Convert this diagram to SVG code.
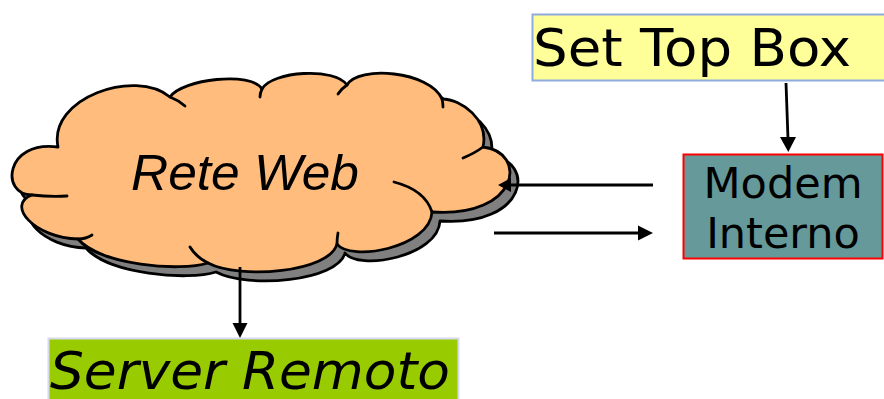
<svg xmlns="http://www.w3.org/2000/svg" width="884" height="399" viewBox="0 0 884 399">
<style>
.cl{stroke:#000;stroke-width:2.8;stroke-linejoin:round;stroke-linecap:round}
.tick{fill:none;stroke:#000;stroke-width:2.8;stroke-linecap:round}
.ln{stroke:#000;stroke-width:2.8;fill:none}
.ah{fill:#000}
.dv{font-family:"DejaVu Sans","Verdana",sans-serif;fill:#000}
</style>
<defs>
<path id="cloud" d="M58,147 C48,98 135,68 170,97 C182,79 252,71 262,89 C272,71 335,67 347,85 C358,65 430,71 442,99 C462,99 489,120 483,147 C528,152 520,218 432,212 C430,248 350,262 337,244 C330,272 240,280 208,263 C180,272 100,265 78,239 C35,238 5,205 32,195 C0,195 5,140 58,147 Z"/>
</defs>
<g id="rete-web">
<use href="#cloud" transform="translate(8,9)" fill="#808080" class="cl"/>
<use href="#cloud" fill="#FFBC7C" class="cl"/>
<path class="tick" d="M170,97 Q178,100 185,106"/>
<path class="tick" d="M262,89 Q260,93 260,97"/>
<path class="tick" d="M347,85 Q341,89 338,94"/>
<path class="tick" d="M442,99 Q443,103 443,107"/>
<path class="tick" d="M483,147 Q475,153 463,158"/>
<path class="tick" d="M432,212 Q425,190 394,182"/>
<path class="tick" d="M337,244 Q337,238 338,233"/>
<path class="tick" d="M208,263 Q196,257 190,247"/>
<path class="tick" d="M78,239 Q86,239 92,235"/>
<path class="tick" d="M32,195 Q50,197 67,196"/>
<text x="131" y="190" font-family="'Liberation Sans',Arial,sans-serif" font-style="italic" font-size="50" textLength="228" lengthAdjust="spacingAndGlyphs">Rete Web</text>
</g>
<g id="set-top-box">
<rect x="532.5" y="14.5" width="360" height="66" fill="#FFFF99" stroke="#8FAADC" stroke-width="2"/>
<text class="dv" x="533" y="66" font-size="52" textLength="318" lengthAdjust="spacingAndGlyphs">Set Top Box</text>
</g>
<g id="modem-interno">
<rect x="683.5" y="154.5" width="199" height="104" fill="#669999" stroke="#FF0000" stroke-width="2"/>
<text class="dv" x="783" y="198" font-size="43" text-anchor="middle">Modem</text>
<text class="dv" x="783" y="248" font-size="43" text-anchor="middle">Interno</text>
</g>
<g id="server-remoto">
<rect x="48.5" y="338.5" width="410" height="70" fill="#99CC00" stroke="#D8D8F0" stroke-width="2"/>
<text class="dv" x="50" y="389" font-size="52" font-style="italic" textLength="400" lengthAdjust="spacingAndGlyphs">Server Remoto</text>
</g>
<g id="connectors">
<line class="ln" x1="786" y1="83" x2="788" y2="139"/>
<polygon class="ah" points="780,137 796,137 788.3,152"/>
<line class="ln" x1="653" y1="185" x2="508" y2="185"/>
<polygon class="ah" points="498,185 511,178 511,192"/>
<line class="ln" x1="494" y1="233" x2="640" y2="233"/>
<polygon class="ah" points="653,233 638,225.5 638,240.5"/>
<line class="ln" x1="240" y1="267" x2="240" y2="325"/>
<polygon class="ah" points="240,338 232.5,323 247.5,323"/>
</g>
</svg>
